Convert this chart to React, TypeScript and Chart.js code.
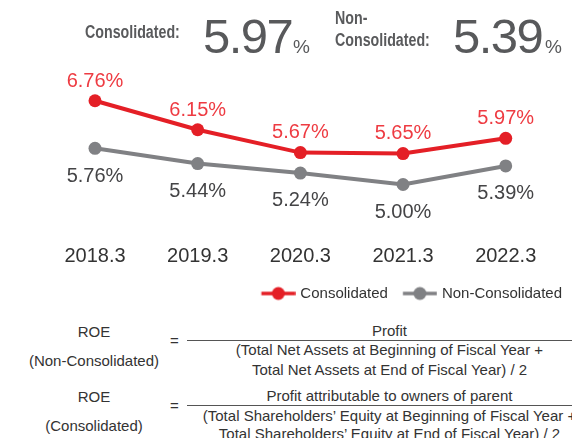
import React, { useEffect, useRef } from 'react';
import { Chart, registerables } from 'chart.js';

Chart.register(...registerables);

// ---- data ----
const categories = ['2018.3', '2019.3', '2020.3', '2021.3', '2022.3'];
const consolidated = [6.76, 6.15, 5.67, 5.65, 5.97];
const nonConsolidated = [5.76, 5.44, 5.24, 5.0, 5.39];
const seriesNames = ['Consolidated', 'Non-Consolidated'];
const yRange = [4.5, 7.0];

const formulaNon = [
  'Profit',
  '(Total Net Assets at Beginning of Fiscal Year +',
  'Total Net Assets at End of Fiscal Year) / 2',
];
const formulaCon = [
  'Profit attributable to owners of parent',
  '(Total Shareholders\u2019 Equity at Beginning of Fiscal Year +',
  'Total Shareholders\u2019 Equity at End of Fiscal Year) / 2',
];

// ---- styles ----
const RED = '#e41f26';
const RED_TEXT = '#ee3b42';
const GRAY = '#808184';
const GRAY_TEXT = '#444446';
const FONT = '"Liberation Sans", Arial, Helvetica, sans-serif';

const abs = (left: number, top: number, extra: React.CSSProperties = {}): React.CSSProperties => ({
  position: 'absolute',
  left,
  top,
  lineHeight: 1,
  whiteSpace: 'nowrap',
  fontFamily: FONT,
  ...extra,
});

export default function App() {
  const ref = useRef<HTMLCanvasElement>(null);

  useEffect(() => {
    document.body.style.margin = '0';
    const makeSwatch = (color: string) => {
      const c = document.createElement('canvas');
      c.width = 42;
      c.height = 16;
      const g = c.getContext('2d')!;
      g.strokeStyle = color;
      g.lineWidth = 3.5;
      g.beginPath();
      g.moveTo(7.75, 8);
      g.lineTo(41.75, 8);
      g.stroke();
      g.fillStyle = color;
      g.beginPath();
      g.arc(24.75, 8, 6.5, 0, Math.PI * 2);
      g.fill();
      return c;
    };
    const swatches = [makeSwatch(RED), makeSwatch(GRAY)];
    const labelColors = [RED_TEXT, GRAY_TEXT];
    const labelOffsets = [-19.7, 27.7];

    const valueLabels = {
      id: 'valueLabels',
      afterDatasetsDraw(chart: any) {
        const ctx = chart.ctx;
        chart.data.datasets.forEach((ds: any, i: number) => {
          const meta = chart.getDatasetMeta(i);
          meta.data.forEach((pt: any, j: number) => {
            ctx.save();
            ctx.font = '20px ' + FONT;
            ctx.fillStyle = labelColors[i];
            ctx.textAlign = 'center';
            ctx.textBaseline = 'middle';
            ctx.fillText(Number(ds.data[j]).toFixed(2) + '%', pt.x, pt.y + labelOffsets[i]);
            ctx.restore();
          });
        });
      },
    };

    const chart = new Chart(ref.current!, {
      type: 'line',
      data: {
        labels: categories,
        datasets: [
          {
            label: seriesNames[0],
            data: consolidated,
            borderColor: RED,
            backgroundColor: RED,
            pointBackgroundColor: RED,
            pointBorderWidth: 0,
            pointRadius: 6.5,
            borderWidth: 4,
            clip: false,
          },
          {
            label: seriesNames[1],
            data: nonConsolidated,
            borderColor: GRAY,
            backgroundColor: GRAY,
            pointBackgroundColor: GRAY,
            pointBorderWidth: 0,
            pointRadius: 6.5,
            borderWidth: 4,
            clip: false,
          },
        ],
      },
      options: {
        animation: false,
        responsive: false,
        layout: { padding: { top: 89.3, left: 0, right: 0, bottom: 0 } },
        plugins: {
          tooltip: { enabled: false },
          legend: {
            position: 'bottom',
            align: 'end',
            labels: {
              usePointStyle: true,
              pointStyleWidth: 36.5,
              padding: 10,
              color: '#333',
              font: { size: 15, family: FONT },
              generateLabels: (c: any) =>
                Chart.defaults.plugins.legend.labels
                  .generateLabels(c)
                  .map((l: any, i: number) => ({ ...l, pointStyle: swatches[i] })),
            },
          },
        },
        scales: {
          x: {
            type: 'category',
            offset: false,
            grid: { display: false, drawTicks: false, tickLength: 0 },
            border: { display: false },
            ticks: {
              color: '#333',
              font: { size: 20, family: FONT },
              padding: 35.7,
              maxRotation: 0,
              autoSkip: false,
            },
            afterFit: (s: any) => {
              s.height = 67.7;
            },
          },
          y: {
            type: 'linear',
            position: 'left',
            min: yRange[0],
            max: yRange[1],
            grid: { display: false, drawTicks: false },
            border: { display: false },
            ticks: { display: false },
            afterFit: (s: any) => {
              s.width = 95;
            },
          },
          y2: {
            type: 'linear',
            position: 'right',
            grid: { display: false, drawTicks: false },
            border: { display: false },
            ticks: { display: false },
            afterFit: (s: any) => {
              s.width = 41;
            },
          },
        },
      },
      plugins: [valueLabels],
    } as any);
    return () => chart.destroy();
  }, []);

  const last = consolidated.length - 1;
  const headLabel: React.CSSProperties = {
    fontSize: 18,
    fontWeight: 'bold',
    color: '#595a5c',
    transform: 'scaleX(0.79)',
    transformOrigin: 'left top',
  };
  const bigNum: React.CSSProperties = { fontSize: 49, color: '#58595b', letterSpacing: -1.5 };
  const pct: React.CSSProperties = { fontSize: 19, color: '#58595b' };
  const ftxt: React.CSSProperties = { fontSize: 15, color: '#333' };
  const centerCol = (left: number, width: number, top: number, text: string) => (
    <div style={abs(left, top, { ...ftxt, width, textAlign: 'center' })}>{text}</div>
  );

  return (
    <div
      style={{
        position: 'fixed',
        left: 0,
        top: 0,
        width: 572,
        height: 438,
        overflow: 'hidden',
        background: '#fff',
      }}
    >
      <canvas ref={ref} width={572} height={311} style={{ position: 'absolute', left: 0, top: 0 }} />

      {/* header */}
      <div style={abs(85, 23.2, headLabel)}>Consolidated:</div>
      <div style={abs(203, 11.5, bigNum)}>{consolidated[last].toFixed(2)}</div>
      <div style={abs(293, 37, pct)}>%</div>
      <div style={abs(335, 9.2, headLabel)}>Non-</div>
      <div style={abs(335, 31.2, headLabel)}>Consolidated:</div>
      <div style={abs(453, 11.5, bigNum)}>{nonConsolidated[last].toFixed(2)}</div>
      <div style={abs(545, 37, pct)}>%</div>

      {/* formula: non-consolidated */}
      {centerCol(0, 188, 324.4, 'ROE')}
      {centerCol(0, 188, 352.7, '(Non-Consolidated)')}
      <div style={abs(170, 332.7, ftxt)}>=</div>
      {centerCol(187, 405, 322.7, formulaNon[0])}
      <div style={{ position: 'absolute', left: 187, top: 340, width: 400, height: 1, background: '#555' }} />
      {centerCol(187, 405, 341.7, formulaNon[1])}
      {centerCol(187, 405, 361.7, formulaNon[2])}

      {/* formula: consolidated */}
      {centerCol(0, 188, 388.7, 'ROE')}
      {centerCol(0, 188, 417.7, '(Consolidated)')}
      <div style={abs(170, 397.7, ftxt)}>=</div>
      {centerCol(187, 405, 388.2, formulaCon[0])}
      <div style={{ position: 'absolute', left: 187, top: 405, width: 400, height: 1, background: '#555' }} />
      {centerCol(187, 405, 407.7, formulaCon[1])}
      {centerCol(187, 405, 425.7, formulaCon[2])}
    </div>
  );
}
